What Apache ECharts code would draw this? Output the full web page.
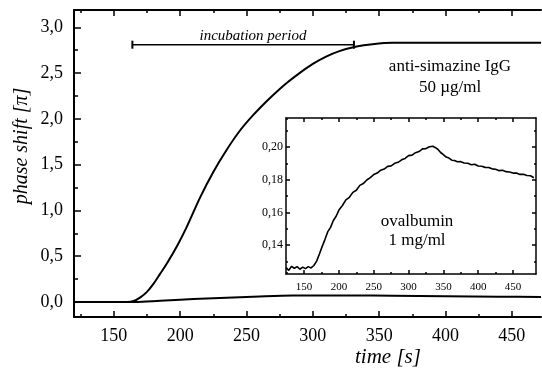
<!DOCTYPE html>
<html>
<head>
<meta charset="utf-8">
<script src="https://cdn.jsdelivr.net/npm/echarts@6/dist/echarts.min.js"></script>
<style>
  html, body { margin: 0; padding: 0; background: #fff; }
  #chart { width: 542px; height: 371px; }
</style>
</head>
<body>
<div id="chart"></div>
<script>
// main curve: anti-simazine IgG 50 µg/ml
const igTime = [120, 140, 160, 165, 170, 175, 180, 185, 190, 198, 205, 215, 225, 235, 245, 255, 265, 273, 281, 290, 300, 310, 320, 333, 345, 360, 400, 440, 472]
const igShift = [0, 0, 0, 0.01, 0.05, 0.11, 0.2, 0.31, 0.42, 0.62, 0.82, 1.14, 1.42, 1.66, 1.87, 2.04, 2.19, 2.3, 2.4, 2.5, 2.6, 2.68, 2.74, 2.79, 2.815, 2.83, 2.83, 2.83, 2.83]

// lower curve on the main scale (ovalbumin)
const ovTime = [120, 145, 166, 185, 200, 220, 240, 260, 285, 310, 330, 360, 400, 440, 472]
const ovShift = [0, 0, 0, 0.014, 0.025, 0.038, 0.05, 0.06, 0.07, 0.072, 0.072, 0.068, 0.062, 0.058, 0.055]

// inset: ovalbumin 1 mg/ml
const insetTime = [124, 128, 132, 136, 140, 144, 148, 152, 156, 160, 164, 168, 172, 176, 180, 184, 188, 192, 196, 200,
  205, 210, 215, 220, 225, 230, 235, 240, 245, 250, 255, 260, 265, 270, 275, 280, 285, 290, 295, 300,
  305, 310, 315, 320, 325, 330, 335, 338, 342, 346, 350, 354, 358, 362, 366, 370, 375, 380, 385, 390,
  395, 400, 405, 410, 415, 420, 425, 430, 435, 440, 445, 450, 455, 460, 465, 470, 475, 480]
const insetShift = [0.1262, 0.1245, 0.127, 0.1258, 0.1268, 0.1252, 0.1265, 0.1256, 0.1268, 0.126, 0.1275, 0.1302, 0.1345, 0.1392, 0.1435, 0.1482, 0.1508, 0.155, 0.1576, 0.1614,
  0.1642, 0.1676, 0.1692, 0.1722, 0.1735, 0.1765, 0.1776, 0.1798, 0.1812, 0.1831, 0.184, 0.1858, 0.1865, 0.1881, 0.1884, 0.19, 0.1906, 0.1921, 0.193, 0.1947,
  0.195, 0.1965, 0.1972, 0.1988, 0.199, 0.2001, 0.2004, 0.1997, 0.1986, 0.1966, 0.1953, 0.1938, 0.1932, 0.1919, 0.1917, 0.1909, 0.191, 0.1902, 0.19, 0.1891,
  0.1894, 0.1883, 0.1882, 0.1875, 0.1874, 0.1866, 0.1864, 0.1855, 0.1857, 0.1849, 0.1847, 0.184, 0.1841, 0.1832, 0.1833, 0.1825, 0.1824, 0.1812]

// incubation period (s) and its height on the main scale
const incubation = [164, 331]
const incubationLevel = 2.81

// ticks
const xMajor = [150, 200, 250, 300, 350, 400, 450]
const xMinor = [125, 175, 225, 275, 325, 375, 425]
const yMajor = [0, 0.5, 1, 1.5, 2, 2.5, 3]
const yMinor = [0.25, 0.75, 1.25, 1.75, 2.25, 2.75]
const insetYMajor = [0.14, 0.16, 0.18, 0.2]
const insetYMinor = [0.13, 0.15, 0.17, 0.19, 0.21]

const serif = '"Liberation Serif", "DejaVu Serif", serif'
const comma = (d) => (v) => v.toFixed(d).replace('.', ',')

// one axis that only draws a set of ticks (and optionally labels)
function axis(grid, position, range, ticks, len, opts = {}) {
  return {
    type: 'value',
    gridIndex: grid,
    position,
    min: range[0],
    max: range[1],
    splitLine: { show: false },
    axisLine: { show: !!opts.line, onZero: false, lineStyle: { color: '#000', width: opts.lineWidth || 2 } },
    axisTick: { show: true, inside: true, length: len, customValues: ticks, lineStyle: { color: '#000', width: 1.5 } },
    axisLabel: opts.label
      ? { show: true, customValues: ticks, formatter: opts.label, fontFamily: serif, fontSize: opts.fontSize, color: '#000', margin: opts.margin }
      : { show: false },
  }
}

const mainX = [120, 472]
const mainY = [-0.164, 3.189]
const insX = [124, 483]
const insY = [0.1223, 0.2177]

const chart = echarts.init(document.getElementById('chart'))
chart.setOption({
  animation: false,
  backgroundColor: '#fff',
  grid: [
    { left: 74, top: 10, width: 467, height: 307 },
    { left: 286, top: 118, width: 250, height: 156, show: true, backgroundColor: '#fff', borderWidth: 0 },
  ],
  xAxis: [
    axis(0, 'bottom', mainX, xMajor, 6, { line: true, label: (v) => String(v), fontSize: 18, margin: 10 }),
    axis(0, 'bottom', mainX, xMinor, 3),
    axis(0, 'top', mainX, xMajor, 6, { line: true }),
    axis(0, 'top', mainX, xMinor, 3),
    axis(1, 'bottom', insX, xMajor, 4, { line: true, lineWidth: 1.5, label: (v) => String(v), fontSize: 11, margin: 8 }),
    axis(1, 'bottom', insX, xMinor, 2),
    axis(1, 'top', insX, xMajor, 4, { line: true, lineWidth: 1.5 }),
    axis(1, 'top', insX, xMinor, 2),
  ],
  yAxis: [
    axis(0, 'left', mainY, yMajor, 7, { line: true, label: comma(1), fontSize: 18, margin: 11 }),
    axis(0, 'left', mainY, yMinor, 4),
    axis(1, 'left', insY, insetYMajor, 4, { line: true, lineWidth: 1.5, label: comma(2), fontSize: 12, margin: 3 }),
    axis(1, 'left', insY, insetYMinor, 2),
    axis(1, 'right', insY, insetYMajor, 4, { line: true, lineWidth: 1.5 }),
    axis(1, 'right', insY, insetYMinor, 2),
  ],
  series: [
    {
      type: 'line', xAxisIndex: 0, yAxisIndex: 0, smooth: 0.3, symbol: 'none',
      lineStyle: { color: '#000', width: 2 },
      data: igTime.map((t, i) => [t, igShift[i]]),
    },
    {
      type: 'line', xAxisIndex: 0, yAxisIndex: 0, smooth: 0.3, symbol: 'none',
      lineStyle: { color: '#000', width: 2 },
      data: ovTime.map((t, i) => [t, ovShift[i]]),
    },
    {
      type: 'line', xAxisIndex: 0, yAxisIndex: 0, symbol: 'rect', symbolSize: [2, 8],
      itemStyle: { color: '#000' }, lineStyle: { color: '#000', width: 1.5 },
      data: incubation.map((t) => [t, incubationLevel]),
    },
    {
      type: 'line', xAxisIndex: 4, yAxisIndex: 2, symbol: 'none',
      lineStyle: { color: '#000', width: 1.6 },
      data: insetTime.map((t, i) => [t, insetShift[i]]),
    },
  ],
  graphic: [
    { type: 'text', x: 253, y: 36, style: { text: 'incubation period', font: 'italic 15px ' + serif, fill: '#000', align: 'center', verticalAlign: 'middle' } },
    { type: 'text', x: 450, y: 67, style: { text: 'anti-simazine IgG', font: '17px ' + serif, fill: '#000', align: 'center', verticalAlign: 'middle' } },
    { type: 'text', x: 450, y: 88, style: { text: '50 µg/ml', font: '17px ' + serif, fill: '#000', align: 'center', verticalAlign: 'middle' } },
    { type: 'text', x: 417, y: 222, style: { text: 'ovalbumin', font: '17px ' + serif, fill: '#000', align: 'center', verticalAlign: 'middle' } },
    { type: 'text', x: 417, y: 241, style: { text: '1 mg/ml', font: '17px ' + serif, fill: '#000', align: 'center', verticalAlign: 'middle' } },
    { type: 'text', x: 388, y: 357, style: { text: 'time [s]', font: 'italic 21px ' + serif, fill: '#000', align: 'center', verticalAlign: 'middle' } },
    { type: 'text', x: 22, y: 146, rotation: Math.PI / 2, style: { text: 'phase shift [π]', font: 'italic 20px ' + serif, fill: '#000', align: 'center', verticalAlign: 'middle' } },
  ],
})
</script>
</body>
</html>
